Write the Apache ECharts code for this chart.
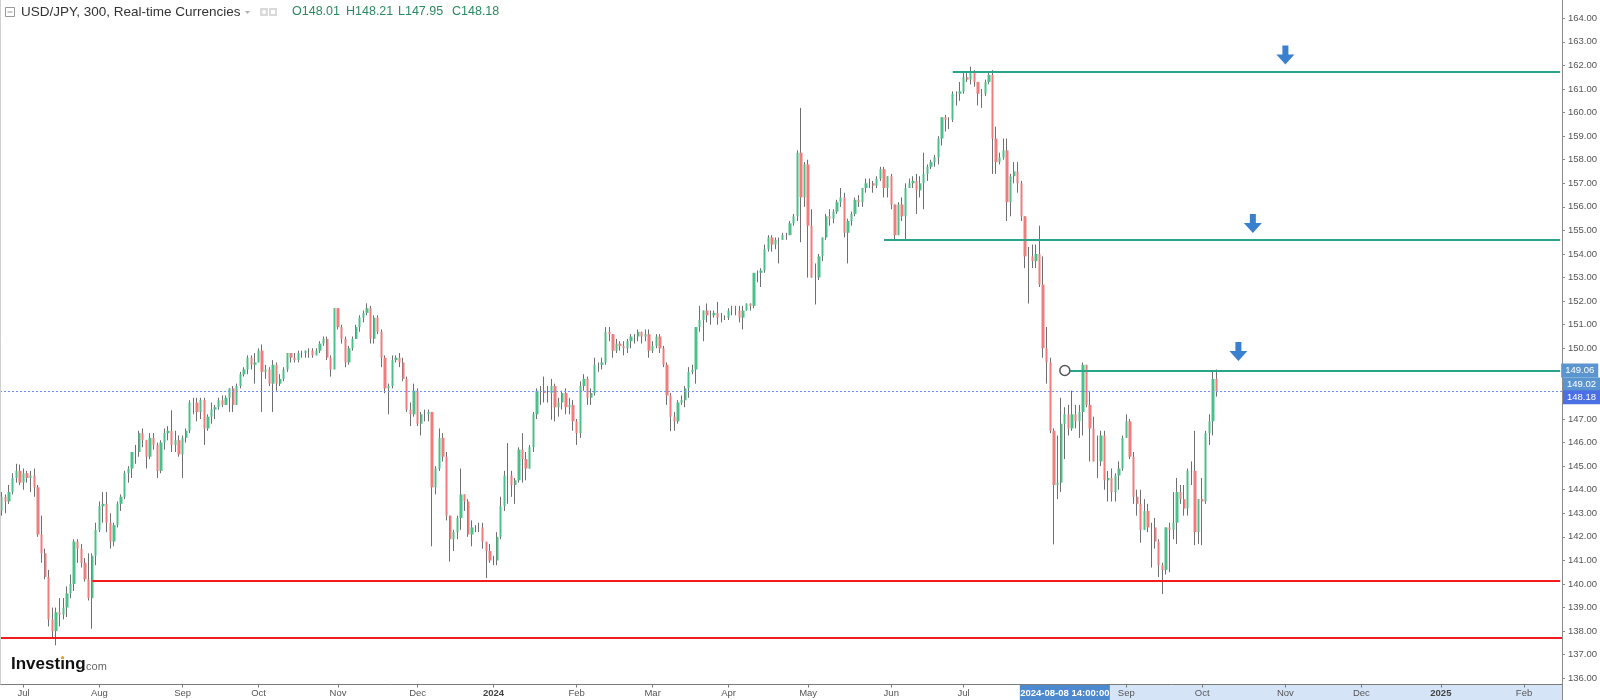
<!DOCTYPE html>
<html><head><meta charset="utf-8">
<script src="https://cdn.jsdelivr.net/npm/echarts@6/dist/echarts.min.js"></script>
<style>html,body{margin:0;padding:0;background:#fff}#c{width:1600px;height:700px}</style>
</head><body><div id="c"></div>
<script>
// ---- axis extent (trading days shown on the time scale) ----
const axisStart = '2023-06-23';
const axisEnd = '2025-02-17';
const monthNames = ['Jan','Feb','Mar','Apr','May','Jun','Jul','Aug','Sep','Oct','Nov','Dec'];
const yMin = 135, yMax = 165, yStep = 1;

// ---- daily bars: [date, open, close, low, high] ----
const bars2023 = [
['2023-06-23',143.1,143.7,142.9,143.9],['2023-06-26',143.7,143.5,143.0,143.8],['2023-06-27',143.5,143.9,143.4,144.2],
['2023-06-28',143.9,144.5,143.8,144.7],['2023-06-29',144.5,144.8,144.3,145.1],['2023-06-30',144.8,144.3,144.2,145.07],
['2023-07-03',144.3,144.7,144.0,144.9],['2023-07-04',144.7,144.5,144.3,144.8],['2023-07-05',144.5,144.6,143.9,144.8],
['2023-07-06',144.6,144.1,143.7,144.9],['2023-07-07',144.1,142.1,142.0,144.2],['2023-07-10',142.1,141.3,140.9,142.9],
['2023-07-11',141.3,140.3,140.2,141.5],['2023-07-12',140.3,138.5,138.2,140.6],['2023-07-13',138.5,138.0,137.7,139.0],
['2023-07-14',138.0,138.8,137.4,139.0],['2023-07-17',138.8,138.7,138.2,139.4],['2023-07-18',138.7,139.0,138.5,139.4],
['2023-07-19',139.0,139.6,138.6,139.9],['2023-07-20',139.6,140.0,139.4,140.4],['2023-07-21',140.0,141.8,139.7,141.9],
['2023-07-24',141.8,141.5,140.9,141.9],['2023-07-25',141.5,140.9,140.7,141.7],['2023-07-26',140.9,140.2,140.1,141.1],
['2023-07-27',140.2,139.4,139.3,141.3],['2023-07-28',139.4,141.2,138.1,141.3],['2023-07-31',141.2,142.3,140.8,142.6],
['2023-08-01',142.3,143.3,142.2,143.5],['2023-08-02',143.3,143.4,142.6,143.9],['2023-08-03',143.4,142.6,142.2,143.9],
['2023-08-04',142.6,141.8,141.5,143.0],['2023-08-07',141.8,142.5,141.6,142.6],['2023-08-08',142.5,143.4,142.4,143.5],
['2023-08-09',143.4,143.7,143.1,143.8],['2023-08-10',143.7,144.7,143.6,144.8],['2023-08-11',144.7,144.9,144.3,145.0],
['2023-08-14',144.9,145.6,144.5,145.6],['2023-08-15',145.6,145.6,145.1,145.9],['2023-08-16',145.6,146.4,145.4,146.5],
['2023-08-17',146.4,146.1,145.8,146.6],['2023-08-18',146.1,145.4,144.9,146.1],['2023-08-21',145.4,146.2,145.3,146.4],
['2023-08-22',146.2,145.9,145.7,146.4],['2023-08-23',145.9,144.8,144.5,146.0],['2023-08-24',144.8,146.0,144.7,146.1],
['2023-08-25',146.0,146.4,145.7,146.6],['2023-08-28',146.4,146.5,146.1,146.7],['2023-08-29',146.5,145.9,145.6,147.37],
['2023-08-30',145.9,146.1,145.6,146.5],['2023-08-31',146.1,145.5,145.4,146.3],
['2023-09-01',145.5,146.2,144.5,146.3],['2023-09-04',146.2,146.5,146.0,146.6],['2023-09-05',146.5,147.7,146.4,147.8],
['2023-09-06',147.7,147.7,147.2,147.9],['2023-09-07',147.7,147.3,146.9,147.9],['2023-09-08',147.3,147.8,147.0,147.9],
['2023-09-11',147.8,146.6,145.9,147.9],['2023-09-12',146.6,147.1,146.5,147.2],['2023-09-13',147.1,147.4,146.8,147.7],
['2023-09-14',147.4,147.5,147.0,147.6],['2023-09-15',147.5,147.8,147.4,147.9],['2023-09-18',147.8,147.6,147.5,148.0],
['2023-09-19',147.6,147.9,147.6,148.0],['2023-09-20',147.9,148.3,147.3,148.3],['2023-09-21',148.3,147.6,147.3,148.4],
['2023-09-22',147.6,148.4,147.6,148.5],['2023-09-25',148.4,148.9,148.3,149.0],['2023-09-26',148.9,149.1,148.8,149.2],
['2023-09-27',149.1,149.6,148.9,149.7],['2023-09-28',149.6,149.3,149.1,149.7],['2023-09-29',149.3,149.4,148.5,149.8],
['2023-10-02',149.4,149.9,149.4,150.0],['2023-10-03',149.9,149.0,147.3,150.16],['2023-10-04',149.0,149.1,148.7,149.3],
['2023-10-05',149.1,148.5,148.4,149.2],['2023-10-06',148.5,149.3,147.3,149.5],['2023-10-09',149.3,148.5,148.2,149.4],
['2023-10-10',148.5,148.7,148.4,148.9],['2023-10-11',148.7,149.1,148.6,149.2],['2023-10-12',149.1,149.8,149.0,149.8],
['2023-10-13',149.8,149.6,149.4,149.8],['2023-10-16',149.6,149.5,149.4,149.8],['2023-10-17',149.5,149.8,149.4,149.9],
['2023-10-18',149.8,149.8,149.6,149.9],['2023-10-19',149.8,149.9,149.6,149.9],['2023-10-20',149.9,149.9,149.6,150.0],
['2023-10-23',149.9,149.7,149.6,150.0],['2023-10-24',149.7,149.9,149.7,150.0],['2023-10-25',149.9,150.2,149.8,150.3],
['2023-10-26',150.2,150.4,150.1,150.5],['2023-10-27',150.4,149.6,149.5,150.5],['2023-10-30',149.6,149.1,148.8,149.7],
['2023-10-31',149.1,151.7,149.2,151.7],
['2023-11-01',151.7,150.9,150.8,151.7],['2023-11-02',150.9,150.4,150.2,151.0],['2023-11-03',150.4,149.4,149.2,150.5],
['2023-11-06',149.4,150.0,149.3,150.1],['2023-11-07',150.0,150.4,149.9,150.5],['2023-11-08',150.4,150.9,150.4,151.0],
['2023-11-09',150.9,151.3,150.7,151.4],['2023-11-10',151.3,151.5,151.1,151.6],['2023-11-13',151.5,151.7,151.4,151.91],
['2023-11-14',151.7,150.4,150.2,151.8],['2023-11-15',150.4,151.3,150.2,151.4],['2023-11-16',151.3,150.7,150.6,151.4],
['2023-11-17',150.7,149.6,149.2,150.8],['2023-11-20',149.6,148.3,148.1,149.7],['2023-11-21',148.3,148.4,147.2,148.5],
['2023-11-22',148.4,149.5,148.3,149.7],['2023-11-23',149.5,149.6,149.4,149.7],['2023-11-24',149.6,149.4,149.2,149.8],
['2023-11-27',149.4,148.7,148.6,149.6],['2023-11-28',148.7,147.4,147.3,148.8],['2023-11-29',147.4,147.2,146.7,147.7],
['2023-11-30',147.2,148.2,147.1,148.5],
['2023-12-01',148.2,146.8,146.7,148.3],['2023-12-04',146.8,147.2,146.3,147.3],['2023-12-05',147.2,147.2,146.9,147.4],
['2023-12-06',147.2,147.3,146.9,147.4],['2023-12-07',147.3,144.1,141.6,147.3],['2023-12-08',144.1,144.9,143.8,145.0],
['2023-12-11',144.9,146.2,144.8,146.6],['2023-12-12',146.2,145.4,145.2,146.4],['2023-12-13',145.4,142.9,142.7,145.6],
['2023-12-14',142.9,141.9,140.95,142.9],['2023-12-15',141.9,142.2,141.4,142.3],['2023-12-18',142.2,142.8,141.9,142.9],
['2023-12-19',142.8,143.8,142.3,144.9],['2023-12-20',143.8,143.5,143.1,143.8],['2023-12-21',143.5,142.1,142.0,143.6],
['2023-12-22',142.1,142.4,141.6,142.7],['2023-12-25',142.4,142.4,142.2,142.5],['2023-12-26',142.4,142.4,142.2,142.6],
['2023-12-27',142.4,141.8,141.5,142.6],['2023-12-28',141.8,141.4,140.25,141.7],['2023-12-29',141.4,141.0,140.9,141.7]
];
const bars2024 = [
['2024-01-01',141.0,141.0,140.8,141.2],['2024-01-02',141.0,142.0,140.8,142.2],['2024-01-03',142.0,143.3,141.9,143.7],
['2024-01-04',143.3,144.6,143.1,144.8],['2024-01-05',144.6,144.6,143.4,145.98],['2024-01-08',144.6,144.2,143.7,144.8],
['2024-01-09',144.2,144.4,143.4,144.5],['2024-01-10',144.4,145.7,144.3,145.8],['2024-01-11',145.7,145.3,144.3,146.4],
['2024-01-12',145.3,144.9,144.4,145.6],['2024-01-15',144.9,145.8,144.9,145.9],['2024-01-16',145.8,147.2,145.6,147.3],
['2024-01-17',147.2,148.2,147.0,148.3],['2024-01-18',148.2,148.2,147.6,148.4],['2024-01-19',148.2,148.1,147.7,148.8],
['2024-01-22',148.1,148.1,147.7,148.4],['2024-01-23',148.1,148.4,146.97,148.7],['2024-01-24',148.4,147.5,146.9,148.5],
['2024-01-25',147.5,147.7,147.1,147.9],['2024-01-26',147.7,148.1,147.4,148.2],['2024-01-29',148.1,147.5,147.2,148.3],
['2024-01-30',147.5,147.6,147.2,147.9],['2024-01-31',147.6,146.9,146.5,147.8],
['2024-02-01',146.9,146.4,145.9,147.0],['2024-02-02',146.4,148.4,146.2,148.6],['2024-02-05',148.4,148.7,148.2,148.9],
['2024-02-06',148.7,147.9,147.6,148.8],['2024-02-07',147.9,148.1,147.6,148.3],['2024-02-08',148.1,149.3,148.0,149.6],
['2024-02-09',149.3,149.3,149.0,149.4],['2024-02-12',149.3,149.4,149.1,149.6],['2024-02-13',149.4,150.7,149.3,150.9],
['2024-02-14',150.7,150.6,150.3,150.9],['2024-02-15',150.6,149.9,149.6,150.6],['2024-02-16',149.9,150.2,149.8,150.4],
['2024-02-19',150.2,150.1,149.9,150.3],['2024-02-20',150.1,150.0,149.7,150.3],['2024-02-21',150.0,150.3,149.8,150.4],
['2024-02-22',150.3,150.5,150.0,150.6],['2024-02-23',150.5,150.5,150.2,150.6],['2024-02-26',150.5,150.7,150.3,150.8],
['2024-02-27',150.7,150.5,150.2,150.7],['2024-02-28',150.5,150.6,150.3,150.8],['2024-02-29',150.6,149.9,149.6,150.8],
['2024-03-01',149.9,150.1,149.8,150.3],['2024-03-04',150.1,150.5,150.0,150.6],['2024-03-05',150.5,150.0,149.8,150.6],
['2024-03-06',150.0,149.3,149.2,150.1],['2024-03-07',149.3,148.0,147.6,149.4],['2024-03-08',148.0,147.1,146.48,148.1],
['2024-03-11',147.1,146.9,146.5,147.3],['2024-03-12',146.9,147.7,146.8,147.8],['2024-03-13',147.7,147.8,147.6,148.0],
['2024-03-14',147.8,148.3,147.5,148.4],['2024-03-15',148.3,149.0,147.9,149.2],['2024-03-18',149.0,149.1,148.9,149.3],
['2024-03-19',149.1,150.9,148.5,150.9],['2024-03-20',150.9,151.2,150.7,151.8],['2024-03-21',151.2,151.6,150.3,151.6],
['2024-03-22',151.6,151.4,151.1,151.9],['2024-03-25',151.4,151.4,151.0,151.6],['2024-03-26',151.4,151.5,151.3,151.6],
['2024-03-27',151.5,151.3,151.0,151.97],['2024-03-28',151.3,151.3,151.1,151.5],['2024-03-29',151.3,151.3,151.2,151.4],
['2024-04-01',151.3,151.6,151.2,151.7],['2024-04-02',151.6,151.6,151.4,151.8],['2024-04-03',151.6,151.6,151.4,151.8],
['2024-04-04',151.6,151.3,151.1,151.8],['2024-04-05',151.3,151.6,150.8,151.8],['2024-04-08',151.6,151.9,151.6,151.9],
['2024-04-09',151.9,151.8,151.6,151.9],['2024-04-10',151.8,153.2,151.7,153.2],['2024-04-11',153.2,153.2,152.8,153.3],
['2024-04-12',153.2,153.3,152.6,153.4],['2024-04-15',153.3,154.2,153.2,154.4],['2024-04-16',154.2,154.7,154.1,154.8],
['2024-04-17',154.7,154.4,154.1,154.8],['2024-04-18',154.4,154.6,154.2,154.7],['2024-04-19',154.6,154.6,153.6,154.7],
['2024-04-22',154.6,154.8,154.6,154.9],['2024-04-23',154.8,154.8,154.6,154.9],['2024-04-24',154.8,155.3,154.8,155.4],
['2024-04-25',155.3,155.6,155.2,155.7],['2024-04-26',155.6,158.3,155.4,158.4],['2024-04-29',158.3,156.4,154.5,160.2],
['2024-04-30',156.4,157.8,156.0,157.9],
['2024-05-01',157.8,155.2,153.0,158.0],['2024-05-02',155.2,153.0,153.0,155.9],['2024-05-03',153.0,153.0,151.86,153.6],
['2024-05-06',153.0,153.9,152.9,154.0],['2024-05-07',153.9,154.7,153.7,154.7],['2024-05-08',154.7,155.6,154.6,155.7],
['2024-05-09',155.6,155.5,155.2,155.9],['2024-05-10',155.5,155.8,155.3,155.9],['2024-05-13',155.8,156.2,155.7,156.3],
['2024-05-14',156.2,156.4,156.0,156.8],['2024-05-15',156.4,154.9,154.7,156.6],['2024-05-16',154.9,155.4,153.6,155.5],
['2024-05-17',155.4,155.7,155.2,155.8],['2024-05-20',155.7,156.3,155.6,156.4],['2024-05-21',156.3,156.2,156.0,156.5],
['2024-05-22',156.2,156.8,156.0,156.8],['2024-05-23',156.8,157.0,156.6,157.2],['2024-05-24',157.0,157.0,156.8,157.2],
['2024-05-27',157.0,156.9,156.6,157.1],['2024-05-28',156.9,157.2,156.8,157.3],['2024-05-29',157.2,157.6,157.1,157.7],
['2024-05-30',157.6,156.8,156.4,157.7],['2024-05-31',156.8,157.3,156.4,157.3],
['2024-06-03',157.3,156.1,155.9,157.4],['2024-06-04',156.1,154.8,154.55,156.1],['2024-06-05',154.8,156.1,154.8,156.2],
['2024-06-06',156.1,155.6,155.4,156.4],['2024-06-07',155.6,156.8,154.6,157.0],['2024-06-10',156.8,157.0,156.8,157.2],
['2024-06-11',157.0,157.1,156.8,157.3],['2024-06-12',157.1,156.7,155.7,157.4],['2024-06-13',156.7,157.0,156.4,157.3],
['2024-06-14',157.0,157.4,155.9,158.3],['2024-06-17',157.4,157.7,157.1,157.8],['2024-06-18',157.7,157.9,157.6,158.0],
['2024-06-19',157.9,158.1,157.7,158.2],['2024-06-20',158.1,158.9,157.8,159.0],['2024-06-21',158.9,159.8,158.6,159.8],
['2024-06-24',159.8,159.7,159.2,159.9],['2024-06-25',159.7,159.7,159.3,159.8],['2024-06-26',159.7,160.8,159.6,160.9],
['2024-06-27',160.8,160.8,160.3,160.9],['2024-06-28',160.8,160.9,160.5,161.3],
['2024-07-01',160.9,161.5,160.8,161.7],['2024-07-02',161.5,161.4,161.3,161.7],['2024-07-03',161.4,161.7,161.2,161.95],
['2024-07-04',161.7,161.3,161.1,161.8],['2024-07-05',161.3,160.8,160.3,161.3],['2024-07-08',160.8,160.8,160.2,161.0],
['2024-07-09',160.8,161.3,160.7,161.4],['2024-07-10',161.3,161.6,161.2,161.7],['2024-07-11',161.6,158.9,157.4,161.8],
['2024-07-12',158.9,157.9,157.4,159.4],['2024-07-15',157.9,158.1,157.8,158.3],['2024-07-16',158.1,158.4,158.0,158.9],
['2024-07-17',158.4,156.2,155.4,158.9],['2024-07-18',156.2,157.3,155.6,157.4],['2024-07-19',157.3,157.5,157.0,157.9],
['2024-07-22',157.5,157.0,156.6,157.9],['2024-07-23',157.0,155.6,155.4,157.1],['2024-07-24',155.6,153.9,153.4,155.6],
['2024-07-25',153.9,153.9,151.9,154.3],['2024-07-26',153.9,153.7,153.4,154.4],['2024-07-29',153.7,154.0,153.4,154.4],
['2024-07-30',154.0,152.7,152.6,155.2],['2024-07-31',152.7,150.0,149.6,153.9],
['2024-08-01',150.0,149.4,148.5,150.9],['2024-08-02',149.4,146.5,146.4,149.6],['2024-08-05',146.5,144.2,141.68,146.6],
['2024-08-06',144.2,144.3,143.6,146.3],['2024-08-07',144.3,146.8,143.9,147.9],['2024-08-08',146.8,147.2,145.3,147.5],
['2024-08-09',147.2,146.6,146.3,147.6],['2024-08-12',146.6,147.2,146.5,148.2],['2024-08-13',147.2,146.9,146.6,147.6],
['2024-08-14',146.9,147.3,146.2,147.6],['2024-08-15',147.3,149.3,146.3,149.4],['2024-08-16',149.3,147.6,147.5,149.3],
['2024-08-19',147.6,146.6,145.2,148.2],['2024-08-20',146.6,145.2,145.2,147.1],['2024-08-21',145.2,145.2,144.5,146.3],
['2024-08-22',145.2,146.3,145.0,146.5],['2024-08-23',146.3,144.4,144.0,146.5],['2024-08-26',144.4,144.5,143.5,144.8],
['2024-08-27',144.5,143.9,143.5,144.9],['2024-08-28',143.9,144.6,143.5,144.7],['2024-08-29',144.6,144.9,144.0,145.2],
['2024-08-30',144.9,146.2,144.8,146.3],
['2024-09-02',146.2,146.9,146.2,147.2],['2024-09-03',146.9,145.4,145.3,147.0],['2024-09-04',145.4,143.7,143.4,145.6],
['2024-09-05',143.7,143.4,142.9,144.0],['2024-09-06',143.4,142.3,141.75,144.0],['2024-09-09',142.3,143.1,142.3,143.6],
['2024-09-10',143.1,142.4,142.2,143.4],['2024-09-11',142.4,142.4,140.7,142.6],['2024-09-12',142.4,141.8,141.5,142.8],
['2024-09-13',141.8,140.8,140.3,141.9],['2024-09-16',140.8,140.6,139.58,140.9],['2024-09-17',140.6,142.4,140.4,142.4],
['2024-09-18',142.4,142.3,140.5,142.6],['2024-09-19',142.3,142.6,141.9,143.9],['2024-09-20',142.6,143.9,141.7,144.5],
['2024-09-23',143.9,143.6,143.4,144.2],['2024-09-24',143.6,143.2,142.9,144.2],['2024-09-25',143.2,144.8,142.9,144.9],
['2024-09-26',144.8,144.8,144.2,145.2],['2024-09-27',144.8,142.2,141.65,146.5],['2024-09-30',142.2,143.6,141.7,143.6],
['2024-10-01',143.6,143.5,141.65,144.5],['2024-10-02',143.5,146.4,143.4,146.5],['2024-10-03',146.4,146.9,145.9,147.2],
['2024-10-04',146.9,148.7,146.3,149.0],['2024-10-07',148.7,148.18,147.95,149.1]
];

// ---- horizontal levels drawn on the chart ----
const supportLevels = [ {from: null, price: 137.7}, {from: '2023-07-28', price: 140.14} ];
const resistanceLevels = [ {from: '2024-06-26', price: 161.72}, {from: '2024-05-30', price: 154.62}, {from: '2024-08-08', price: 149.06} ];
const arrowPoints = [ ['2024-11-01', 162.44], ['2024-10-21', 155.29], ['2024-10-15', 149.86] ];
const anchorPoint = ['2024-08-08', 149.06];
const lastPrice = 148.18;
const extraAxisPrice = 149.02;
const legendOHLC = [['O','148.01'],['H','148.21'],['L','147.95'],['C','148.18']];
const crosshairLabel = '2024-08-08 14:00:00';
const crosshairDate = '2024-08-08';

// ---- build category axis of weekdays ----
function weekdays(from, to){
  const out=[]; const d=new Date(from+'T00:00:00Z'); const end=new Date(to+'T00:00:00Z');
  while(d<=end){ const w=d.getUTCDay(); if(w>0&&w<6) out.push(d.toISOString().slice(0,10)); d.setUTCDate(d.getUTCDate()+1); }
  return out;
}
const cats = weekdays(axisStart, axisEnd);
const allBars = bars2023.concat(bars2024);
const byDate = {}; allBars.forEach(b => byDate[b[0]] = b);
const lastDate = allBars[allBars.length-1][0];
const nData = cats.indexOf(lastDate) + 1;
const wickData = [], bodyData = [];
for (let i=0;i<nData;i++){
  const b = byDate[cats[i]];
  if (!b){ wickData.push(['-','-','-','-']); bodyData.push(['-','-','-','-']); continue; }
  wickData.push([b[1], b[2], b[3], b[4]]);
  bodyData.push([b[1], b[2], Math.min(b[1],b[2]), Math.max(b[1],b[2])]);
}
const lastCat = cats[cats.length-1];
const isMonthStart = (idx) => idx > 0 && cats[idx].slice(5,7) !== cats[idx-1].slice(5,7);

const TEAL = '#2aa58a', RED = '#f21c1c';
const FONT = 'Liberation Sans, Arial, sans-serif';
const priceLabel = (txt, bg, offY) => ({show:true, position:'end', distance:1, offset:[0,offY], formatter: txt, color:'#fff',
  backgroundColor:bg, padding:[2,4,2,4], fontSize:9.5, lineHeight:10, fontFamily:FONT});
const markLines = [];
supportLevels.forEach(l => {
  if (l.from === null) markLines.push({yAxis: l.price, lineStyle:{color:RED,width:2,type:'solid'}, label:{show:false}});
  else markLines.push([{coord:[l.from, l.price], lineStyle:{color:RED,width:2,type:'solid'}, label:{show:false}}, {coord:[lastCat, l.price]}]);
});
resistanceLevels.forEach((l, i) => {
  const withLabel = (i === resistanceLevels.length-1);
  markLines.push([{coord:[l.from, l.price], lineStyle:{color:TEAL,width:2,type:'solid'},
    label: withLabel ? priceLabel(l.price.toFixed(2), '#5b95cf', 0) : {show:false}},
    {coord:[lastCat, l.price]}]);
});
markLines.push({yAxis: extraAxisPrice, lineStyle:{color:'rgba(0,0,0,0)', width:1},
  label: priceLabel(extraAxisPrice.toFixed(2), '#5b95cf', 13)});
markLines.push({yAxis: lastPrice, lineStyle:{color:'#6f8ff0', width:1, type:[2,2]},
  label: priceLabel(lastPrice.toFixed(2), '#4a70e3', 6)});

const markPoints = arrowPoints.map(p => ({coord:p, symbol:'path://M6,0 L12,0 L12,9 L18,9 L9,19 L0,9 L6,9 Z', symbolSize:[18,19], itemStyle:{color:'#3b7fcf'}, label:{show:false}}));
markPoints.push({coord: anchorPoint, symbol:'circle', symbolSize:10, itemStyle:{color:'#fff', borderColor:'#555', borderWidth:1.5}, label:{show:false}});

// pixel geometry of the plot
const yTopPx = -5.27, yBottomPx = 701.86, axisLinePx = 684.5, rightPx = 1562;

const chart = echarts.init(document.getElementById('c'), null, {renderer:'canvas'});
chart.setOption({
  animation:false,
  backgroundColor:'#fff',
  grid:{left:0, right:1600-rightPx, top:yTopPx, bottom:700-yBottomPx, outerBoundsMode:'none', containLabel:false},
  xAxis:{type:'category', data:cats, boundaryGap:true, offset:-(yBottomPx-axisLinePx),
    axisLine:{show:true, lineStyle:{color:'#7a7a7a', width:1}},
    axisTick:{show:true, alignWithLabel:true, length:3, interval:(i)=>isMonthStart(i), lineStyle:{color:'#7a7a7a'}},
    axisLabel:{interval:(i)=>isMonthStart(i), margin:4, fontSize:9.5, color:'#555', fontFamily:FONT,
      formatter:(v)=>{ const m=+v.slice(5,7); return m===1 ? '{y|'+v.slice(0,4)+'}' : monthNames[m-1]; },
      rich:{y:{fontWeight:'bold', color:'#444', fontSize:9.5, fontFamily:FONT}}},
    splitLine:{show:false}},
  yAxis:{type:'value', position:'right', min:yMin, max:yMax, interval:yStep, scale:true,
    axisLine:{show:true, lineStyle:{color:'#8a8a8a'}},
    axisTick:{show:true, length:3, lineStyle:{color:'#8a8a8a'}},
    axisLabel:{showMinLabel:false, showMaxLabel:false, margin:6, fontSize:9.5, color:'#555', fontFamily:FONT, formatter:(v)=>v.toFixed(2)},
    splitLine:{show:false}},
  series:[
    {type:'candlestick', name:'wick', data:wickData, barWidth:1, clip:false,
      itemStyle:{color:'#6f6f6f', color0:'#6f6f6f', borderColor:'#6f6f6f', borderColor0:'#6f6f6f', borderWidth:1}},
    {type:'candlestick', name:'body', data:bodyData, barWidth:2.8, clip:false, z:3,
      itemStyle:{color:'#4cc08a', color0:'#f07c7c', borderColor:'#4cc08a', borderColor0:'#f07c7c', borderWidth:0},
      markLine:{symbol:['none','none'], silent:true, data:markLines, animation:false},
      markPoint:{silent:true, data:markPoints, animation:false}}
  ]
});

const cx = chart.convertToPixel({xAxisIndex:0}, crosshairDate);
const graphics = [
  {type:'line', shape:{x1:0.5,y1:0,x2:0.5,y2:axisLinePx}, style:{stroke:'#d0d0d0', lineWidth:1}, z:50},
  // header
  {type:'rect', shape:{x:5.5,y:7.5,width:9,height:9}, style:{fill:'none', stroke:'#999', lineWidth:1}, z:50},
  {type:'line', shape:{x1:7.5,y1:12,x2:12.5,y2:12}, style:{stroke:'#999', lineWidth:1}, z:50},
  {type:'text', x:21, y:12, style:{text:'USD/JPY, 300, Real-time Currencies', font:'13.5px '+FONT, fill:'#333', verticalAlign:'middle'}, z:50},
  {type:'polygon', shape:{points:[[245,11],[250,11],[247.5,14]]}, style:{fill:'#b0b0b0'}, z:50},
  {type:'rect', shape:{x:260,y:8,width:8,height:8}, style:{fill:'#d9d9d9'}, z:50},
  {type:'circle', shape:{cx:264,cy:12,r:2}, style:{fill:'#fff'}, z:51},
  {type:'rect', shape:{x:269,y:8,width:8,height:8}, style:{fill:'#d9d9d9'}, z:50},
  {type:'rect', shape:{x:271,y:10,width:4,height:4}, style:{fill:'#fff'}, z:51},
];
const legendX = [292, 346, 398, 452];
legendOHLC.forEach((p,i)=>{
  graphics.push({type:'text', x:legendX[i], y:12, style:{text:p[0]+p[1], font:'12.5px '+FONT, fill:'#2b8a5f', verticalAlign:'middle'}, z:50});
});
// logo
graphics.push({type:'text', x:11, y:673, style:{text:'Investing', font:'bold 17px '+FONT, fill:'#111', verticalAlign:'bottom'}, z:50});
graphics.push({type:'text', x:83, y:672, style:{text:'.com', font:'11px '+FONT, fill:'#666', verticalAlign:'bottom'}, z:50});
graphics.push({type:'circle', shape:{cx:62.5,cy:657.5,r:1.6}, style:{fill:'#f5a623'}, z:51});
// crosshair time label and range band on the time axis
graphics.push({type:'rect', shape:{x:cx, y:axisLinePx+0.5, width:rightPx-cx, height:700-axisLinePx}, style:{fill:'#d6e4f7'}, z:-1});
graphics.push({type:'rect', shape:{x:cx-45, y:axisLinePx+0.5, width:90, height:700-axisLinePx}, style:{fill:'#4d89cf'}, z:60});
graphics.push({type:'text', x:cx, y:693, style:{text:crosshairLabel, font:'bold 9.5px '+FONT, fill:'#fff', align:'center', verticalAlign:'middle'}, z:61});
chart.setOption({graphic: graphics});
</script>
</body></html>
